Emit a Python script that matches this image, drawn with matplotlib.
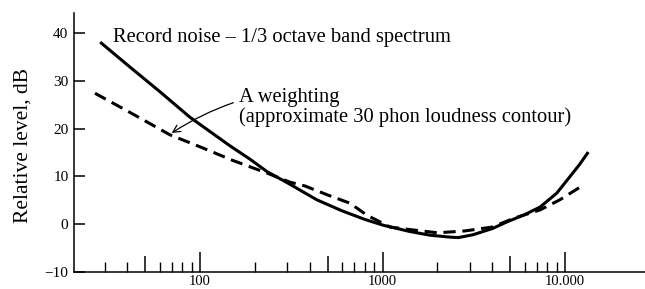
import numpy as np
import matplotlib
matplotlib.use("Agg")
import matplotlib.pyplot as plt
from matplotlib.ticker import FixedLocator, NullLocator, NullFormatter

plt.rcParams['font.family'] = 'serif'
plt.rcParams['font.serif'] = ['Liberation Serif', 'DejaVu Serif']

# record noise, 1/3 octave band spectrum (solid)
noise_f = [28.4, 41, 60, 88, 146, 188, 233, 300, 437, 600, 800, 1007, 1400, 1820,
           2340, 2600, 3130, 4000, 4810, 6000, 7300, 9000, 10250, 12000, 13400]
noise_db = [38.1, 33.0, 27.8, 22.4, 16.4, 13.6, 11.0, 8.7, 5.1, 2.8, 1.0, -0.2, -1.5, -2.3,
            -2.7, -2.8, -2.2, -0.9, 0.5, 2.0, 3.6, 6.5, 9.2, 12.5, 15.1]

# A weighting (dashed)
aw_f = [26.6, 40, 68.5, 100, 150, 233, 311, 376, 502, 663, 820, 1100, 1470, 2010,
        2830, 3980, 5290, 7300, 9350, 12600]
aw_db = [27.4, 23.7, 18.7, 16.2, 13.4, 10.7, 8.8, 8.0, 6.1, 4.4, 1.9, -0.6, -1.2, -1.8,
         -1.4, -0.6, 1.3, 3.0, 5.1, 8.2]

yticks = [-10, 0, 10, 20, 30, 40]
ytick_labels = ['\u221210', '0', '10', '20', '30', '40']
major_x = [100, 1000, 10000]
major_x_labels = ['100', '1000', '10.000']
five_x = [50, 500, 5000]
minor_x = [30, 40, 60, 70, 80, 90, 200, 300, 400, 600, 700, 800, 900,
           2000, 3000, 4000, 6000, 7000, 8000, 9000]

fig = plt.figure(figsize=(6.45, 2.89), dpi=100)
ax = fig.add_axes([0.1147, 0.0588, 0.8853, 0.8962])

ax.plot(noise_f, noise_db, color='black', lw=2.2, solid_capstyle='butt')
ax.plot(aw_f, aw_db, color='black', lw=2.2, dashes=(4, 2.2))

ax.set_xscale('log')
ax.set_xlim(20.4, 27400)
ax.set_ylim(-10, 44.2)

for s in ['top', 'right']:
    ax.spines[s].set_visible(False)
for s in ['left', 'bottom']:
    ax.spines[s].set_linewidth(1.1)

ax.set_yticks(yticks)
ax.set_yticklabels(ytick_labels)
ax.tick_params(axis='y', direction='in', length=8, width=1.1, pad=4, labelsize=11)

ax.xaxis.set_major_locator(FixedLocator(major_x))
ax.set_xticklabels(major_x_labels)
ax.xaxis.set_minor_locator(FixedLocator(minor_x))
ax.xaxis.set_minor_formatter(NullFormatter())
ax.tick_params(axis='x', which='major', direction='in', length=14.4, width=1.1,
               pad=2, labelsize=10.5)
ax.tick_params(axis='x', which='minor', direction='in', length=7, width=1.0)

# taller ticks at 50, 500, 5000
ax2 = ax.twiny()
ax2.set_xscale('log')
ax2.set_xlim(ax.get_xlim())
ax2.xaxis.set_ticks_position('bottom')
ax2.xaxis.set_major_locator(FixedLocator(five_x))
ax2.xaxis.set_major_formatter(NullFormatter())
ax2.xaxis.set_minor_locator(NullLocator())
ax2.tick_params(axis='x', which='major', direction='in', length=11.5, width=1.1)
for s in ax2.spines.values():
    s.set_visible(False)

ax.set_ylabel('Relative level, dB', fontsize=15.5)
ax.yaxis.set_label_coords(-0.073, 0.49)

ax.text(33.4, 39.0, 'Record noise \u2013 1/3 octave band spectrum', fontsize=14.8,
        va='center', ha='left')

ax.annotate('A weighting\n(approximate 30 phon loudness contour)',
            xy=(70, 19.1), xytext=(163, 28.6), fontsize=14.8,
            ha='left', va='top', linespacing=1.08,
            arrowprops=dict(arrowstyle='->,head_length=0.35,head_width=0.18',
                            lw=0.9, color='black',
                            connectionstyle='arc3,rad=0.25',
                            shrinkA=2, shrinkB=0))

fig.savefig('out.png', dpi=100)
